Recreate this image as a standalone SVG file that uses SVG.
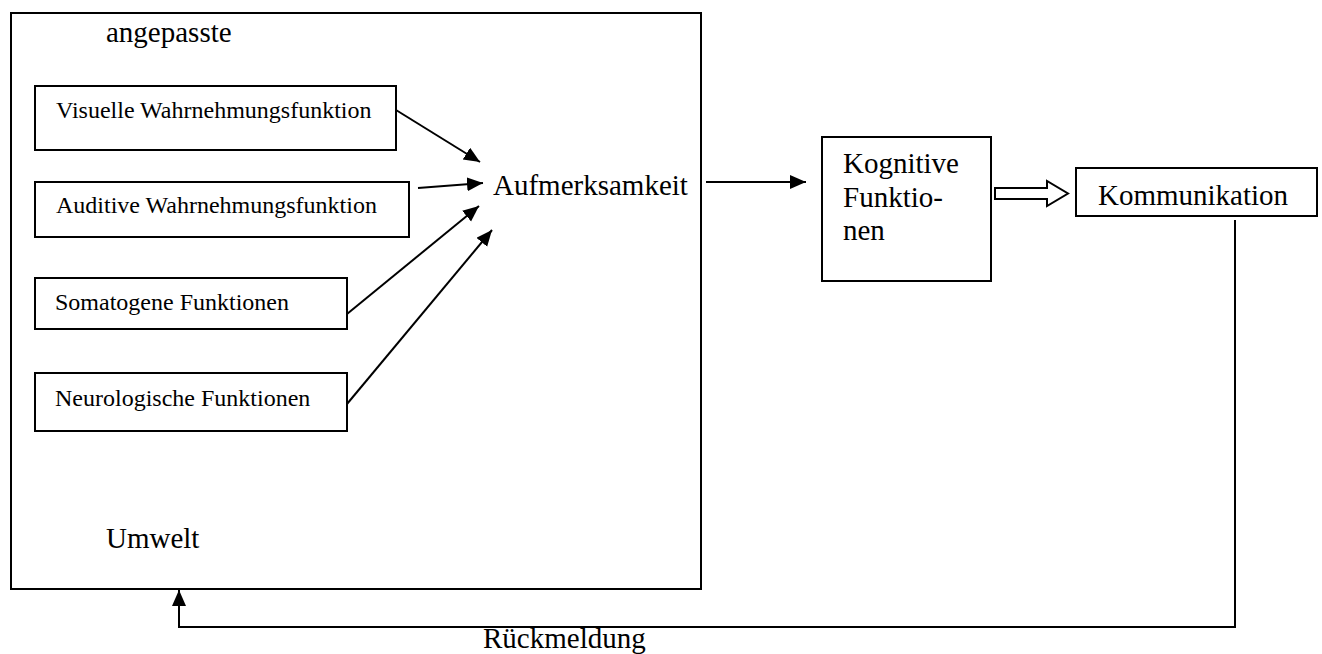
<svg xmlns="http://www.w3.org/2000/svg" width="1322" height="654" viewBox="0 0 1322 654">
<style>
.box{fill:#fff;stroke:#000;stroke-width:2}
text{font-family:'Liberation Serif','DejaVu Serif',serif;fill:#000}
.s{font-size:24px}
.b{font-size:29px}
.ln{fill:none;stroke:#000;stroke-width:2}
</style>
<defs>
<marker id="ah" markerUnits="userSpaceOnUse" markerWidth="18" markerHeight="16" refX="16" refY="7" orient="auto">
<path d="M0,0 L16,7 L0,14 z" fill="#000"/>
</marker>
</defs>
<rect width="1322" height="654" fill="#fff"/>
<g id="umwelt">
<rect class="box" x="11" y="13" width="690" height="576"/>
<text class="b" font-family="Liberation Serif, serif" x="106" y="42">angepasste</text>
<text class="b" font-family="Liberation Serif, serif" x="106" y="548">Umwelt</text>
</g>
<g id="visuell">
<rect class="box" x="35" y="86" width="361" height="64"/>
<text class="s" font-family="Liberation Serif, serif" x="56" y="118">Visuelle Wahrnehmungsfunktion</text>
</g>
<g id="auditiv">
<rect class="box" x="35" y="182" width="374" height="55"/>
<text class="s" font-family="Liberation Serif, serif" x="56" y="213">Auditive Wahrnehmungsfunktion</text>
</g>
<g id="somatogen">
<rect class="box" x="35" y="278" width="312" height="51"/>
<text class="s" font-family="Liberation Serif, serif" x="55" y="310">Somatogene Funktionen</text>
</g>
<g id="neurologisch">
<rect class="box" x="35" y="373" width="312" height="58"/>
<text class="s" font-family="Liberation Serif, serif" x="55" y="406">Neurologische Funktionen</text>
</g>
<g id="aufmerksamkeit">
<text class="b" font-family="Liberation Serif, serif" x="493" y="195">Aufmerksamkeit</text>
</g>
<g id="kognitiv">
<rect class="box" x="822" y="137" width="169" height="144"/>
<text class="b" font-family="Liberation Serif, serif" x="843" y="173">Kognitive</text>
<text class="b" font-family="Liberation Serif, serif" x="843" y="207">Funktio-</text>
<text class="b" font-family="Liberation Serif, serif" x="843" y="240">nen</text>
</g>
<g id="kommunikation">
<rect class="box" x="1076" y="168" width="241" height="48"/>
<text class="b" font-family="Liberation Serif, serif" x="1098" y="205">Kommunikation</text>
</g>
<g id="connectors">
<line class="ln" x1="396" y1="110" x2="480" y2="162" marker-end="url(#ah)"/>
<line class="ln" x1="418" y1="188" x2="483" y2="183" marker-end="url(#ah)"/>
<line class="ln" x1="347" y1="314" x2="479" y2="206" marker-end="url(#ah)"/>
<line class="ln" x1="347" y1="404" x2="492" y2="230" marker-end="url(#ah)"/>
<line class="ln" x1="706" y1="182" x2="806" y2="182" marker-end="url(#ah)"/>
<polygon points="995,188 1047,188 1047,181 1068,193.5 1047,206 1047,199 995,199" fill="#fff" stroke="#000" stroke-width="2"/>
<polyline class="ln" points="1235,220 1235,627 179,627 179,590" marker-end="url(#ah)"/>
<text class="b" font-family="Liberation Serif, serif" x="483" y="648">Rückmeldung</text>
</g>
</svg>
